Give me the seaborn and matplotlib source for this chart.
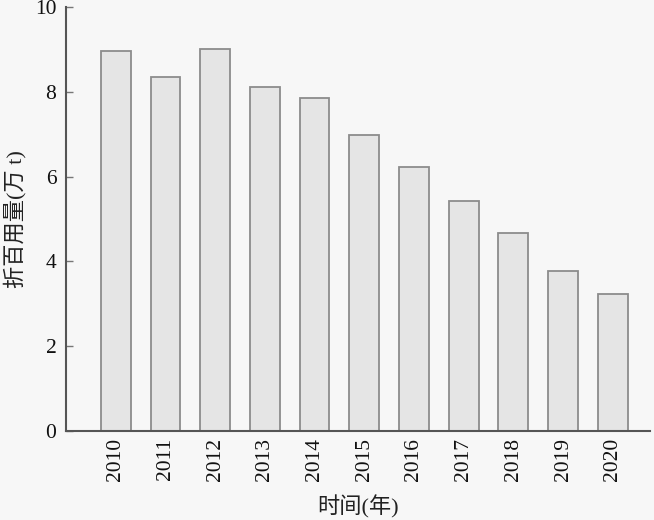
import pandas as pd
import matplotlib
matplotlib.use('Agg')
import matplotlib.pyplot as plt
import seaborn as sns

# data
years = ['2010', '2011', '2012', '2013', '2014', '2015',
         '2016', '2017', '2018', '2019', '2020']
usage = [8.97, 8.36, 9.01, 8.12, 7.86, 6.99, 6.23, 5.43, 4.68, 3.78, 3.24]
y_ticks = [0, 2, 4, 6, 8, 10]

x_label = '时间(年)'
y_label = '折百用量(万 t)'

df = pd.DataFrame({'year': years, 'usage': usage})

sns.set_style('ticks')
plt.rcParams['font.family'] = ['Liberation Serif', 'Noto Sans CJK SC']

bg = '#f7f7f7'
fig = plt.figure(figsize=(6.54, 5.2), dpi=100, facecolor=bg)
ax = fig.add_axes([0.101, 0.171, 0.893, 0.8155])
ax.set_facecolor(bg)

sns.barplot(data=df, x='year', y='usage', ax=ax, width=0.6,
            color='#e5e5e5', edgecolor='#8c8c8c', linewidth=1.3,
            saturation=1)

ax.set_xlim(-1.0, 10.75)
ax.set_ylim(0, 10)
ax.set_yticks(y_ticks)
ax.set_yticklabels([str(t) for t in y_ticks])
ax.tick_params(axis='y', direction='in', length=5, width=1, color='#777777',
               labelsize=15.5, labelcolor='#111111', pad=7)
ax.tick_params(axis='x', direction='in', length=4, width=1, color='#777777',
               labelsize=15.5, labelcolor='#111111', labelrotation=90, pad=5)

for side in ['top', 'right']:
    ax.spines[side].set_visible(False)
for side in ['left', 'bottom']:
    ax.spines[side].set_color('#555555')
    ax.spines[side].set_linewidth(1.5)

ax.set_xlabel(x_label, fontsize=16, color='#222222', labelpad=10)
ax.set_ylabel(y_label, fontsize=16, color='#222222', labelpad=6)

plt.savefig('out.png', dpi=100, facecolor=bg)
plt.close()
